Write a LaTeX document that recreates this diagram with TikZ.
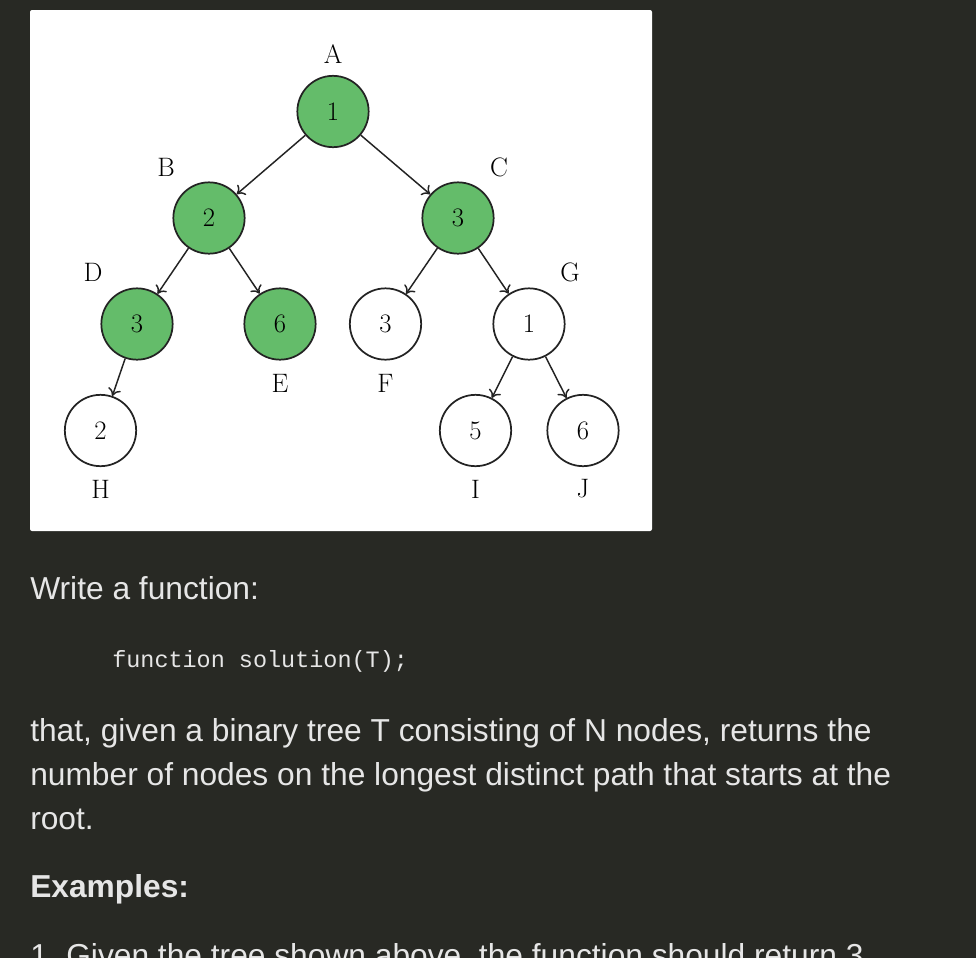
\documentclass[tikz,border=0pt]{standalone}
\usepackage{fontspec}
\setsansfont{Liberation Sans}
\setmonofont{Liberation Mono}
\usetikzlibrary{arrows.meta}
\definecolor{bg}{RGB}{40,41,36}
\definecolor{tgreen}{RGB}{100,188,106}
\definecolor{tline}{RGB}{35,35,35}
\definecolor{txt}{RGB}{230,230,230}
\tikzset{
  tnode/.style={circle, draw=tline, line width=1.3pt, minimum size=53.5pt, inner sep=0pt, font=\fontsize{20}{24}\selectfont},
  gnode/.style={tnode, fill=tgreen},
  wnode/.style={tnode, fill=white},
  lbl/.style={inner sep=0pt, font=\fontsize{20}{24}\selectfont},
  edge/.style={draw=tline, line width=1.1pt, -{To[length=5.5pt,width=10pt]}},
  body/.style={anchor=base west, inner sep=0pt, text=txt, font=\sffamily\fontsize{23.8}{33}\selectfont},
  code/.style={anchor=base west, inner sep=0pt, text=txt, font=\ttfamily\fontsize{17.6}{22}\selectfont},
}
\begin{document}
\begin{tikzpicture}[x=0.75pt,y=-0.75pt]
\useasboundingbox (0,0) rectangle (976,958);
\begin{scope}
\clip (0,0) rectangle (976,958);
\fill[bg] (0,0) rectangle (976,958);
\fill[white, rounded corners=1.5pt] (30,10) rectangle (652,531);

% tree nodes
\node[gnode] (A) at (333,111.5) {1};
\node[gnode] (B) at (209,218) {2};
\node[gnode] (C) at (458,218) {3};
\node[gnode] (D) at (137,324) {3};
\node[gnode] (E) at (280,324) {6};
\node[wnode] (F) at (385.5,324) {3};
\node[wnode] (G) at (529,324) {1};
\node[wnode] (H) at (100.5,430.5) {2};
\node[wnode] (I) at (475.5,430.5) {5};
\node[wnode] (J) at (583,430.5) {6};

% labels
\node[lbl] (lA) at (333,54) {A};
\node[lbl] (lB) at (166,167) {B};
\node[lbl] (lC) at (499,167) {C};
\node[lbl] (lD) at (93,272) {D};
\node[lbl] (lE) at (280,383) {E};
\node[lbl] (lF) at (385.5,383) {F};
\node[lbl] (lG) at (570,272) {G};
\node[lbl] (lH) at (100.5,489) {H};
\node[lbl] (lI) at (475.5,489) {I};
\node[lbl] (lJ) at (583,489) {J};

% edges
\draw[edge] (A) -- (B);
\draw[edge] (A) -- (C);
\draw[edge] (B) -- (D);
\draw[edge] (B) -- (E);
\draw[edge] (C) -- (F);
\draw[edge] (C) -- (G);
\draw[edge] (D) -- (H);
\draw[edge] (G) -- (I);
\draw[edge] (G) -- (J);

% text
\node[body] (t1) at (30,599) {Write a function:};
\node[code] (t2) at (112,667) {function solution(T);};
\node[body] (t3) at (30,741) {that, given a binary tree T consisting of N nodes, returns the};
\node[body] (t4) at (30,785) {number of nodes on the longest distinct path that starts at the};
\node[body] (t5) at (30,829) {root.};
\node[body, font=\sffamily\bfseries\fontsize{23.8}{33}\selectfont] (t6) at (30,897) {Examples:};
\node[body] (t7a) at (30,966) {1.};
\node[body] (t7) at (66,966) {Given the tree shown above, the function should return 3.};
\end{scope}
\end{tikzpicture}
\end{document}
